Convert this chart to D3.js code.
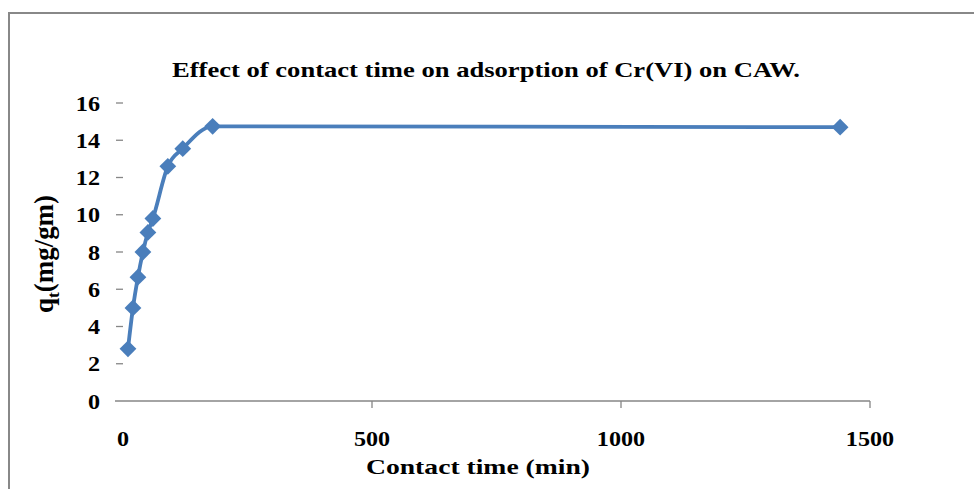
<!DOCTYPE html>
<html>
<head>
<meta charset="utf-8">
<script src="https://cdn.jsdelivr.net/npm/d3@7"></script>
<style>
  body { margin: 0; background: #fff; }
  svg text { font-weight: bold; fill: #000; }
</style>
</head>
<body>
<div id="chart"></div>
<script>
// Contact time (min) and adsorbed amount q_t (mg/gm)
const times = [10, 20, 30, 40, 50, 60, 90, 120, 180, 1440];
const qt = [2.8, 5.0, 6.65, 8.0, 9.05, 9.8, 12.6, 13.55, 14.75, 14.7];
const xTicks = [0, 500, 1000, 1500];
const yTicks = [0, 2, 4, 6, 8, 10, 12, 14, 16];

const width = 974, height = 489;
const lineColor = '#4a7ebb';
const serif = "Times New Roman, Liberation Serif, Tinos, serif";
const stretch = 1.15; // glyphs in the picture look slightly wide

const svg = d3.select('#chart').append('svg')
	.attr('width', width)
	.attr('height', height);

// Outer chart frame (runs off the right and bottom)
svg.append('path')
	.attr('d', `M9,${height + 5} V13 H${width + 5}`)
	.attr('fill', 'none')
	.attr('stroke', '#888')
	.attr('stroke-width', 2);

const x = d3.scaleLinear().domain([0, 1500]).range([123, 870]);
const y = d3.scaleLinear().domain([0, 16]).range([401, 103]);

// helper: horizontally stretched text at a point
const addText = (g, px, py, str, size, anchor) => g.append('text')
	.attr('transform', `translate(${px},${py}) scale(${stretch},1)`)
	.attr('text-anchor', anchor)
	.style('font-family', serif)
	.style('font-size', size + 'px')
	.text(str);

// Title
svg.append('text')
	.attr('x', 172)
	.attr('y', 77)
	.attr('textLength', 628)
	.attr('lengthAdjust', 'spacingAndGlyphs')
	.style('font-family', serif)
	.style('font-size', '22px')
	.text('Effect of contact time on adsorption of Cr(VI) on CAW.');

// X axis line
svg.append('line')
	.attr('x1', 115).attr('x2', x(1500))
	.attr('y1', y(0)).attr('y2', y(0))
	.attr('stroke', '#868686').attr('stroke-width', 1.3);

svg.selectAll('.xtick')
	.data(xTicks.filter(d => d > 0))
	.enter().append('line')
	.attr('class', 'xtick')
	.attr('x1', d => x(d)).attr('x2', d => x(d))
	.attr('y1', y(0)).attr('y2', y(0) + 7)
	.attr('stroke', '#868686').attr('stroke-width', 1.3);

const xLabels = svg.append('g');
xTicks.forEach(d => addText(xLabels, x(d), 446, d, 21, 'middle'));

// Y axis ticks (no axis line)
svg.selectAll('.ytick')
	.data(yTicks.filter(d => d > 0))
	.enter().append('line')
	.attr('class', 'ytick')
	.attr('x1', 116).attr('x2', 123)
	.attr('y1', d => y(d)).attr('y2', d => y(d))
	.attr('stroke', '#868686').attr('stroke-width', 1.3);

const yLabels = svg.append('g');
yTicks.forEach(d => addText(yLabels, 100, y(d) + 7.5, d, 21, 'end'));

// Axis titles
svg.append('text')
	.attr('x', 366)
	.attr('y', 474)
	.attr('textLength', 224)
	.attr('lengthAdjust', 'spacingAndGlyphs')
	.style('font-family', serif)
	.style('font-size', '22px')
	.text('Contact time (min)');

const yTitle = svg.append('text')
	.attr('transform', 'translate(53,313) rotate(-90) scale(1,1.15)')
	.attr('x', 0)
	.attr('textLength', 118)
	.attr('lengthAdjust', 'spacingAndGlyphs')
	.style('font-family', serif)
	.style('font-size', '23px');
yTitle.append('tspan').text('q');
yTitle.append('tspan').attr('dy', 5).style('font-size', '15px').text('t');
yTitle.append('tspan').attr('dy', -5).text('(mg/gm)');

// Data series: smoothed line with diamond markers
const points = times.map((t, i) => [t, qt[i]]);
const line = d3.line()
	.x(d => x(d[0]))
	.y(d => y(d[1]))
	.curve(d3.curveMonotoneX);

svg.append('path')
	.datum(points)
	.attr('d', line)
	.attr('fill', 'none')
	.attr('stroke', lineColor)
	.attr('stroke-width', 3.8)
	.attr('stroke-linejoin', 'round');

const diamond = d3.symbol().type(d3.symbolDiamond2).size(180);
svg.selectAll('.marker')
	.data(points)
	.enter().append('path')
	.attr('class', 'marker')
	.attr('transform', d => `translate(${x(d[0])},${y(d[1])})`)
	.attr('d', diamond)
	.attr('fill', lineColor);
</script>
</body>
</html>
